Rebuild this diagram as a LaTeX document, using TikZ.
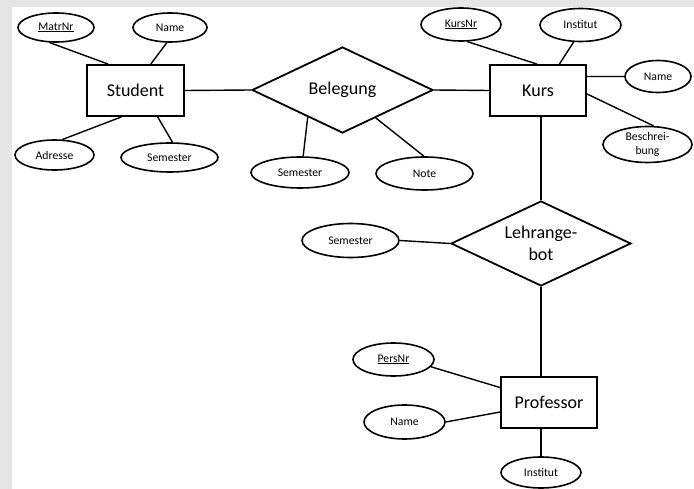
\documentclass[tikz,border=0pt]{standalone}
\usepackage{fontspec}
\setmainfont{Carlito}
\usetikzlibrary{shapes.geometric}
\definecolor{framegray}{HTML}{E5E5E5}
\begin{document}
\begin{tikzpicture}[x=1pt,y=-1pt,
  entity/.style={draw,line width=1.8pt,rectangle,inner sep=0pt,font=\fontsize{18}{21}\selectfont},
  attr/.style={draw,line width=1.6pt,ellipse,inner sep=0pt,font=\fontsize{11.7}{14.7}\selectfont,align=center},
  rel/.style={draw,line width=1.8pt,diamond,inner sep=0pt,aspect=2.1,font=\fontsize{18}{21.7}\selectfont,align=center},
  conn/.style={line width=1.4pt}]
\fill[framegray] (0,0) rectangle (694,489);
\fill[white] (12,7) rectangle (694,489);
\useasboundingbox (0,0) rectangle (694,489);
% entities
\node[entity,minimum width=97pt,minimum height=51pt] (student) at (135.5,90.5) {Student};
\node[entity,minimum width=96pt,minimum height=51pt] (kurs) at (538,90.5) {Kurs};
\node[entity,minimum width=96pt,minimum height=51pt] (prof) at (549,402.5) {Professor};
% relationships
\node[rel,minimum width=181pt,minimum height=86pt] (beleg) at (342.5,90) {Belegung};
\node[rel,minimum width=180pt,minimum height=85pt] (lehr) at (541,243.5) {Lehrange-\\bot};
% attributes
\node[attr,minimum width=76pt,minimum height=29pt] (matr) at (56,27.5) {\underline{MatrNr}};
\node[attr,minimum width=74pt,minimum height=29pt] (sname) at (170,27.5) {Name};
\node[attr,minimum width=79pt,minimum height=30pt] (adr) at (54.5,155) {Adresse};
\node[attr,minimum width=97pt,minimum height=29pt] (ssem) at (169.5,157.5) {Semester};
\node[attr,minimum width=98pt,minimum height=31pt] (bsem) at (300,172.5) {Semester};
\node[attr,minimum width=97pt,minimum height=33pt] (note) at (424.5,173.5) {Note};
\node[attr,minimum width=80pt,minimum height=33pt] (kursnr) at (461,24.5) {\underline{KursNr}};
\node[attr,minimum width=81pt,minimum height=33pt] (kinst) at (580.5,25) {Institut};
\node[attr,minimum width=66pt,minimum height=32pt] (kname) at (658,76.5) {Name};
\node[attr,minimum width=89pt,minimum height=36pt] (kbes) at (647.5,144.5) {Beschrei-\\bung};
\node[attr,minimum width=97pt,minimum height=34pt] (lsem) at (350.5,240.5) {Semester};
\node[attr,minimum width=81pt,minimum height=33pt] (persnr) at (393.5,359.5) {\underline{PersNr}};
\node[attr,minimum width=81pt,minimum height=34pt] (pname) at (404.5,422) {Name};
\node[attr,minimum width=80pt,minimum height=31pt] (pinst) at (541,472.5) {Institut};
% connectors
\draw[conn] (matr.247.5) -- (student.136);
\draw[conn] (sname.258) -- (student.60);
\draw[conn] (adr.63) -- (student.242);
\draw[conn] (ssem.79.5) -- (student.310);
\draw[conn] (student.east) -- (beleg.west);
\draw[conn] (beleg.218) -- (bsem.79);
\draw[conn] (beleg.320) -- (note.92);
\draw[conn] (beleg.east) -- (kurs.west);
\draw[conn] (kursnr.290) -- (kurs.92);
\draw[conn] (kinst.248.5) -- (kurs.51.6);
\draw[conn] (kurs.16.8) -- (kname.west);
\draw[conn] (kurs.356) -- (kbes.72.5);
\draw[conn] (lehr.north |- kurs.south) -- (lehr.north);
\draw[conn] (lsem.east) -- (lehr.west);
\draw[conn] (lehr.south) -- (lehr.south |- prof.north);
\draw[conn] (persnr.349) -- (prof.163);
\draw[conn] (pname.east) -- (prof.191);
\draw[conn] (pinst.north |- prof.south) -- (pinst.north);
\end{tikzpicture}
\end{document}
